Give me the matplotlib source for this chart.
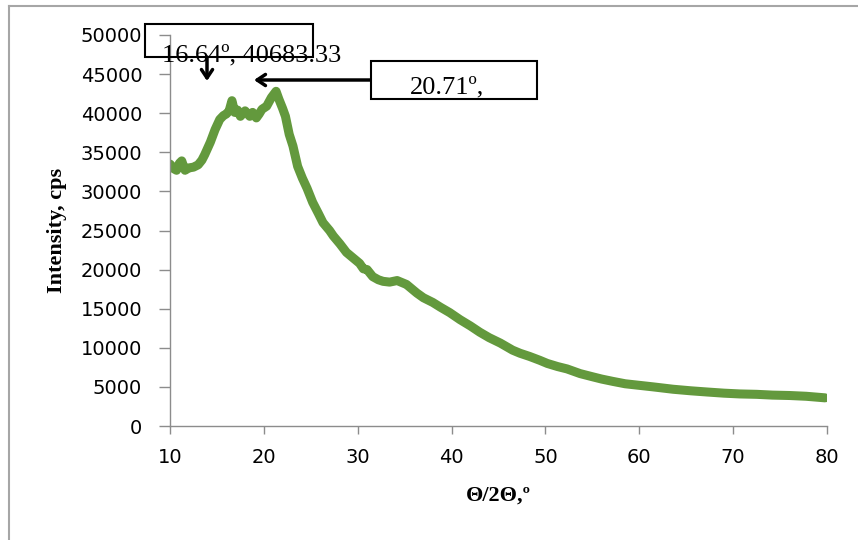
import matplotlib
matplotlib.use("Agg")
import matplotlib.pyplot as plt
from matplotlib.patches import Rectangle
from matplotlib.lines import Line2D

# XRD pattern, values
two_theta = [10.0, 10.4, 10.7, 11.0, 11.25, 11.6, 12.0, 12.5, 13.0, 13.4, 13.7,
             14.0, 14.3, 14.8, 15.3, 15.7, 16.0, 16.3, 16.6, 16.9, 17.2, 17.5,
             18.0, 18.5, 18.8, 19.2, 19.5, 19.8, 20.3, 20.8, 21.3, 21.6, 22.0,
             22.3, 22.7, 23.1, 23.6, 24.1, 24.6, 25.2, 25.8, 26.3, 27.0, 27.4,
             28.1, 28.8, 29.5, 30.2, 30.6, 31.0, 31.6, 32.2, 32.7, 33.4, 34.2,
             34.8, 35.2, 36.3, 37.0, 38.0, 38.8, 39.8, 40.9, 42.0, 43.0, 44.0,
             45.2, 46.5, 47.3, 48.3, 49.4, 50.2, 51.3, 52.3, 53.7, 55.0, 56.0,
             57.2, 58.5, 60.0, 61.5, 63.6, 65.5, 67.2, 69.0, 70.7, 72.5, 74.2,
             76.0, 77.8, 79.8]
intensity = [33500, 32900, 32700, 33600, 33900, 32700, 33000, 33100, 33400, 34000, 34700,
             35500, 36300, 37900, 39200, 39700, 39900, 40300, 41600, 40100, 40400, 39600,
             40300, 39600, 40100, 39400, 39900, 40500, 40900, 42000, 42800, 41800, 40600,
             39600, 37300, 35800, 33200, 31700, 30400, 28600, 27200, 26000, 25000, 24300,
             23300, 22200, 21500, 20800, 20100, 20000, 19100, 18700, 18500, 18400, 18600,
             18300, 18100, 17000, 16400, 15800, 15200, 14500, 13600, 12800, 12000, 11300,
             10600, 9700, 9300, 8900, 8400, 8000, 7600, 7300, 6700, 6300, 6000,
             5700, 5400, 5200, 5000, 4700, 4500, 4350, 4200, 4100, 4050, 3950,
             3900, 3800, 3600]

W, H = 858, 540
fig = plt.figure(figsize=(W / 100, H / 100), dpi=100)
ax = fig.add_axes([170 / W, 1 - 426 / H, (827 - 170) / W, (426 - 35) / H])

ax.plot(two_theta, intensity, color='#63993d', linewidth=6.5,
        solid_capstyle='round', solid_joinstyle='round')

ax.set_xlim(10, 80)
ax.set_ylim(0, 50000)
ax.set_xticks(range(10, 81, 10))
ax.set_yticks(range(0, 50001, 5000))

for side in ['top', 'right']:
    ax.spines[side].set_visible(False)
for side in ['left', 'bottom']:
    ax.spines[side].set_color('#8c8c8c')
    ax.spines[side].set_linewidth(1.0)
ax.tick_params(axis='y', direction='out', length=8, width=1, color='#8c8c8c',
               labelsize=14, pad=12)
ax.tick_params(axis='x', direction='out', length=6, width=1, color='#8c8c8c',
               labelsize=14, pad=10)
for lab in ax.get_xticklabels() + ax.get_yticklabels():
    lab.set_family('DejaVu Sans')

ax.set_xlabel('Θ/2Θ,º', fontsize=16, fontweight='bold',
              family='Liberation Serif', labelpad=13)
ax.set_ylabel('Intensity, cps', fontsize=16, fontweight='bold',
              family='Liberation Serif', labelpad=10)


def fx(px):
    return px / W


def fy(py):
    return 1 - py / H


# outer frame (left and top edges)
fig.add_artist(Line2D([fx(9), fx(9)], [fy(6), 0], color='#a6a6a6', lw=1.5,
                      transform=fig.transFigure))
fig.add_artist(Line2D([fx(9), 1], [fy(6), fy(6)], color='#a6a6a6', lw=1.5,
                      transform=fig.transFigure))

# annotation boxes
fig.add_artist(Rectangle((fx(145), fy(57)), fx(313) - fx(145), fy(24) - fy(57),
                         transform=fig.transFigure, fill=False, ec='black', lw=1.5))
fig.text(fx(162), fy(61), '16.64º, 40683.33', fontsize=19,
         family='Liberation Serif', ha='left', va='baseline')

fig.add_artist(Rectangle((fx(371), fy(99)), fx(537) - fx(371), fy(61) - fy(99),
                         transform=fig.transFigure, facecolor='white', ec='black', lw=1.5))
fig.text(fx(410), fy(93), '20.71º,', fontsize=19,
         family='Liberation Serif', ha='left', va='baseline')

# arrows
ax.annotate('', xy=(fx(207), fy(81)), xytext=(fx(207), fy(57)),
            xycoords='figure fraction', textcoords='figure fraction',
            arrowprops=dict(arrowstyle='->,head_length=0.6,head_width=0.4',
                            color='black', lw=2.5, shrinkA=0, shrinkB=0))
ax.annotate('', xy=(fx(254), fy(80)), xytext=(fx(371), fy(80)),
            xycoords='figure fraction', textcoords='figure fraction',
            arrowprops=dict(arrowstyle='->,head_length=0.6,head_width=0.4',
                            color='black', lw=2.5, shrinkA=0, shrinkB=0))

fig.savefig('out.png', dpi=100)
